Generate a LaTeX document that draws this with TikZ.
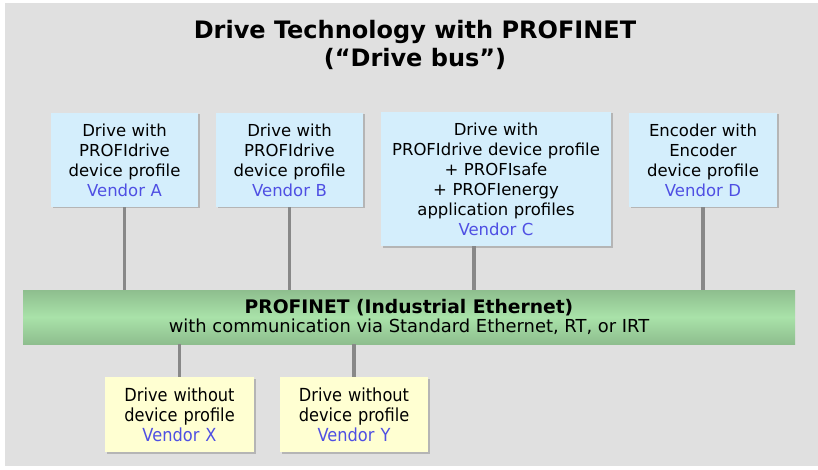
\documentclass[tikz,border=0pt]{standalone}
\usepackage{fontspec}
\setmainfont{DejaVu Sans}
\newfontfamily\narrowfont{DejaVu Sans}[FakeStretch=0.9]
\usetikzlibrary{shadows}

\definecolor{panelgray}{HTML}{E0E0E0}
\definecolor{devblue}{HTML}{D4EEFC}
\definecolor{devyellow}{HTML}{FFFFD2}
\definecolor{vendorblue}{HTML}{4F4FE3}
\definecolor{busgreen}{HTML}{A9E2A9}
\definecolor{busdark}{HTML}{8EBE8E}
\definecolor{linkgray}{HTML}{888888}
\newcommand{\vendor}[1]{\textcolor{vendorblue}{#1}}

\begin{document}
\begin{tikzpicture}[x=1pt, y=-1pt,
    device/.style={rectangle, fill=devblue, inner sep=0pt, text width=147pt, minimum height=94pt, align=center, font=\fontsize{16.5}{20}\selectfont, drop shadow={shadow xshift=1.5pt, shadow yshift=-1.5pt, fill=black!40, opacity=0.6}},
    plain/.style={device, fill=devyellow, text width=149pt, minimum height=75pt, font=\narrowfont\fontsize{18}{20}\selectfont},
    bus/.style={rectangle, inner sep=0pt, minimum width=772pt, minimum height=54pt, align=center, top color=busdark, bottom color=busdark, middle color=busgreen},
    link/.style={draw=linkgray, line width=3.5pt}]

    \useasboundingbox (0,0) rectangle (818,470);
    \fill [panelgray] (5,3) rectangle (818,466);

    \node [align=center, font=\bfseries\fontsize{24}{28}\selectfont] (title) at (415,45) {Drive Technology with PROFINET\\(“Drive bus”)};

    \node [device] (drvA) at (124.5,160) {Drive with\\PROFIdrive\\device profile\\\vendor{Vendor A}};
    \node [device] (drvB) at (289.5,160) {Drive with\\PROFIdrive\\device profile\\\vendor{Vendor B}};
    \node [device, text width=230pt, minimum height=134pt] (drvC) at (496,179) {Drive with\\PROFIdrive device profile\\+ PROFIsafe\\+ PROFIenergy\\application profiles\\\vendor{Vendor C}};
    \node [device, text width=148pt] (encD) at (703,160) {Encoder with\\Encoder\\device profile\\\vendor{Vendor D}};

    \node [bus] (profinet) at (409,317) {\textbf{\fontsize{18.7}{21}\selectfont PROFINET (Industrial Ethernet)}\\[2pt]\fontsize{17.9}{21}\selectfont with communication via Standard Ethernet, RT, or IRT};

    \node [plain] (drvX) at (179.5,414.5) {Drive without\\device profile\\\vendor{Vendor X}};
    \node [plain, text width=148pt] (drvY) at (354,414.5) {Drive without\\device profile\\\vendor{Vendor Y}};

    \path [link] (drvA.south) -- (drvA.south |- profinet.north);
    \path [link] (drvB.south) -- (drvB.south |- profinet.north);
    \path [link] ([xshift=-22pt]drvC.south) -- ([xshift=-22pt]drvC.south |- profinet.north);
    \path [link] (encD.south) -- (encD.south |- profinet.north);
    \path [link] (profinet.south -| drvX.north) -- (drvX.north);
    \path [link] (profinet.south -| drvY.north) -- (drvY.north);
\end{tikzpicture}
\end{document}
